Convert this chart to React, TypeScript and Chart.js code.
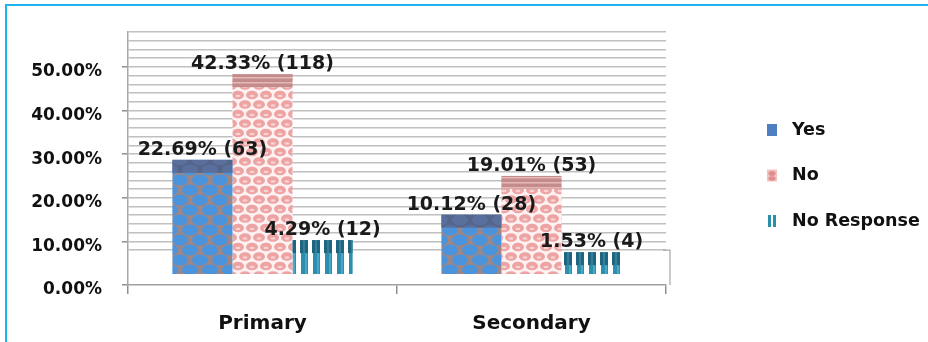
import React, { useEffect, useRef } from 'react';
import { Chart, registerables } from 'chart.js';

Chart.register(...registerables);

// ---- data ----
const categories = ['Primary', 'Secondary'];
const seriesNames = ['Yes', 'No', 'No Response'];
const yesPct = [22.69, 10.12];
const yesCount = [63, 28];
const noPct = [42.33, 19.01];
const noCount = [118, 53];
const nrPct = [4.29, 1.53];
const nrCount = [12, 4];
const yTickLabels = ['0.00%', '10.00%', '20.00%', '30.00%', '40.00%', '50.00%'];

const FONT = "'DejaVu Sans', sans-serif";

type Ctx2D = CanvasRenderingContext2D;

function makeTile(main: Ctx2D, w: number, h: number, draw: (g: Ctx2D) => void): CanvasPattern {
  const c = document.createElement('canvas');
  c.width = w;
  c.height = h;
  const g = c.getContext('2d') as Ctx2D;
  draw(g);
  return main.createPattern(c, 'repeat') as CanvasPattern;
}

function ellipses(g: Ctx2D, pts: number[][], rx: number, ry: number, color: string) {
  g.fillStyle = color;
  for (const [x, y] of pts) {
    g.beginPath();
    g.ellipse(x, y, rx, ry, 0, 0, Math.PI * 2);
    g.fill();
  }
}

export default function App() {
  const canvasRef = useRef<HTMLCanvasElement | null>(null);

  useEffect(() => {
    document.body.style.margin = '0';
    const canvas = canvasRef.current;
    if (!canvas) return;
    const main = canvas.getContext('2d') as Ctx2D;

    const yesFront = makeTile(main, 20, 20, (g) => {
      g.fillStyle = '#9c8686';
      g.fillRect(0, 0, 20, 20);
      ellipses(g, [[0, 0], [20, 0], [0, 20], [20, 20], [10, 10]], 8, 5.6, '#4b94dc');
    });
    const yesTop = makeTile(main, 20, 20, (g) => {
      g.fillStyle = '#55658a';
      g.fillRect(0, 0, 20, 20);
      ellipses(g, [[0, 0], [20, 0], [0, 20], [20, 20], [10, 10]], 8, 5.6, '#5a6f9c');
    });
    const noFront = makeTile(main, 14, 19, (g) => {
      g.fillStyle = '#fdf1f1';
      g.fillRect(0, 0, 14, 19);
      ellipses(g, [[0, 0], [14, 0], [0, 19], [14, 19], [7, 9.5]], 6, 4.3, '#eea3a3');
      ellipses(g, [[0, 1], [14, 1], [0, 20], [14, 20], [7, 10.5]], 2.5, 1.3, '#f8d2d2');
    });
    const noTop = makeTile(main, 6, 5, (g) => {
      g.fillStyle = '#c48b8b';
      g.fillRect(0, 0, 6, 5);
      g.fillStyle = '#e4b9b9';
      g.fillRect(0, 2, 6, 1.5);
    });
    const nrFront = makeTile(main, 12, 10, (g) => {
      g.fillStyle = '#ffffff';
      g.fillRect(0, 0, 12, 10);
      g.fillStyle = '#2d8fae';
      g.fillRect(1, 0, 7, 10);
      g.fillStyle = '#4aa8c6';
      g.fillRect(5, 0, 2, 10);
    });
    const nrTop = makeTile(main, 12, 10, (g) => {
      g.fillStyle = '#ffffff';
      g.fillRect(0, 0, 12, 10);
      g.fillStyle = '#1e6680';
      g.fillRect(0, 0, 8, 10);
      g.fillStyle = '#367f98';
      g.fillRect(3, 0, 2, 10);
    });

    const fronts = [yesFront, noFront, nrFront];
    const tops = [yesTop, noTop, nrTop];
    const counts = [yesCount, noCount, nrCount];

    const decor = {
      id: 'decor',
      afterDatasetsDraw(chart: any) {
        const { ctx, chartArea } = chart;
        ctx.save();
        // 3D top faces
        chart.data.datasets.forEach((_ds: any, di: number) => {
          const meta = chart.getDatasetMeta(di);
          meta.data.forEach((el: any) => {
            const { x, y, width, base } = el.getProps(['x', 'y', 'width', 'base'], true);
            const h = Math.min(13, base - y);
            ctx.fillStyle = tops[di];
            ctx.fillRect(x - width / 2, y, width, h);
          });
        });
        // right wall edge
        const yScale = chart.scales.y;
        ctx.strokeStyle = '#a8a8a8';
        ctx.lineWidth = 1.2;
        ctx.beginPath();
        ctx.moveTo(chartArea.right - 3, yScale.getPixelForValue(8));
        ctx.lineTo(chartArea.right + 4, yScale.getPixelForValue(8));
        ctx.lineTo(chartArea.right + 4, chartArea.bottom);
        ctx.stroke();
        // value labels
        ctx.font = `bold 19px ${FONT}`;
        ctx.fillStyle = '#1a1a1a';
        ctx.textAlign = 'center';
        ctx.textBaseline = 'alphabetic';
        chart.data.datasets.forEach((ds: any, di: number) => {
          const meta = chart.getDatasetMeta(di);
          meta.data.forEach((el: any, i: number) => {
            const { x, y } = el.getProps(['x', 'y'], true);
            const v = ds.data[i] as number;
            ctx.fillText(`${v.toFixed(2)}% (${counts[di][i]})`, x, y - 5);
          });
        });
        ctx.restore();
      },
      afterDraw(chart: any) {
        const { ctx, chartArea } = chart;
        ctx.save();
        const boxX = chartArea.right + 101;
        const textX = chartArea.right + 126;
        const y0 = chartArea.top + 98;
        const gap = 45.5;
        ctx.font = `bold 17.5px ${FONT}`;
        ctx.textAlign = 'left';
        ctx.textBaseline = 'middle';
        seriesNames.forEach((name, i) => {
          const cy = y0 + i * gap;
          if (i === 0) {
            ctx.fillStyle = '#4f7fc0';
            ctx.fillRect(boxX, cy - 6, 10, 12);
          } else if (i === 1) {
            ctx.fillStyle = '#f1c3c3';
            ctx.fillRect(boxX, cy - 6, 10, 12);
            ctx.fillStyle = '#e08e8e';
            ctx.beginPath();
            ctx.ellipse(boxX + 5, cy - 2, 3.5, 2.5, 0, 0, Math.PI * 2);
            ctx.fill();
            ctx.beginPath();
            ctx.ellipse(boxX + 5, cy + 3, 3.5, 2.2, 0, 0, Math.PI * 2);
            ctx.fill();
          } else {
            ctx.fillStyle = '#2a8fab';
            ctx.fillRect(boxX + 1, cy - 6, 3, 12);
            ctx.fillRect(boxX + 6, cy - 6, 3, 12);
          }
          ctx.fillStyle = '#111111';
          ctx.fillText(name, textX, cy);
        });
        ctx.restore();
      },
    };

    const gridValues: number[] = [];
    for (let v = 0; v <= 58; v += 2) gridValues.push(v);

    const common = { yAxisID: 'yb', base: -3.5, categoryPercentage: 0.67, barPercentage: 1, borderWidth: 0 };

    const chart = new Chart(canvas, {
      type: 'bar',
      data: {
        labels: categories,
        datasets: [
          { label: seriesNames[0], data: yesPct, backgroundColor: fronts[0], ...common },
          { label: seriesNames[1], data: noPct, backgroundColor: fronts[1], ...common },
          { label: seriesNames[2], data: nrPct, backgroundColor: fronts[2], ...common },
        ] as any,
      },
      options: {
        responsive: false,
        animation: false,
        events: [],
        layout: { padding: { left: 0, right: 262, top: 32, bottom: 0 } },
        plugins: { legend: { display: false }, tooltip: { enabled: false } },
        scales: {
          x: {
            grid: { drawOnChartArea: false, tickLength: 9, color: '#8f8f8f', lineWidth: 1.5 },
            border: { color: '#a0a0a0', width: 1.5 },
            ticks: { font: { family: FONT, size: 20, weight: 'bold' }, color: '#111111', padding: 18 },
            afterFit: (s: any) => {
              s.height = 57;
            },
          },
          y: {
            position: 'left',
            min: 0,
            max: 58,
            afterBuildTicks: (s: any) => {
              s.ticks = gridValues.map((v) => ({ value: v }));
            },
            ticks: {
              autoSkip: false,
              font: { family: FONT, size: 17, weight: 'bold' },
              color: '#111111',
              padding: 20,
              labelOffset: 5,
              callback: (v: any) => (v % 10 === 0 && v <= 50 ? yTickLabels[v / 10] : ''),
            },
            grid: {
              color: (c: any) => (c.tick && c.tick.value >= 8 ? 'rgba(150,150,150,0.6)' : 'rgba(0,0,0,0)'),
              lineWidth: 1.6,
              tickLength: 6,
              tickWidth: 1.5,
              tickColor: (c: any) =>
                c.tick && c.tick.value % 10 === 0 && c.tick.value <= 50 ? '#8f8f8f' : 'rgba(0,0,0,0)',
            },
            border: { color: '#a8a8a8', width: 1.5 },
            afterFit: (s: any) => {
              s.width = 128;
            },
          },
          yb: { display: false, min: -6, max: 52 },
        },
      } as any,
      plugins: [decor],
    });

    return () => chart.destroy();
  }, []);

  return (
    <div style={{ position: 'relative', width: 928, height: 342, overflow: 'hidden', background: '#ffffff' }}>
      <canvas ref={canvasRef} width={928} height={342} style={{ position: 'absolute', left: 0, top: 0 }} />
      <div
        style={{
          position: 'absolute',
          left: 5,
          top: 4,
          width: 2000,
          height: 2000,
          borderTop: '2px solid #1db3f0',
          borderLeft: '2px solid #1db3f0',
          pointerEvents: 'none',
        }}
      />
    </div>
  );
}
